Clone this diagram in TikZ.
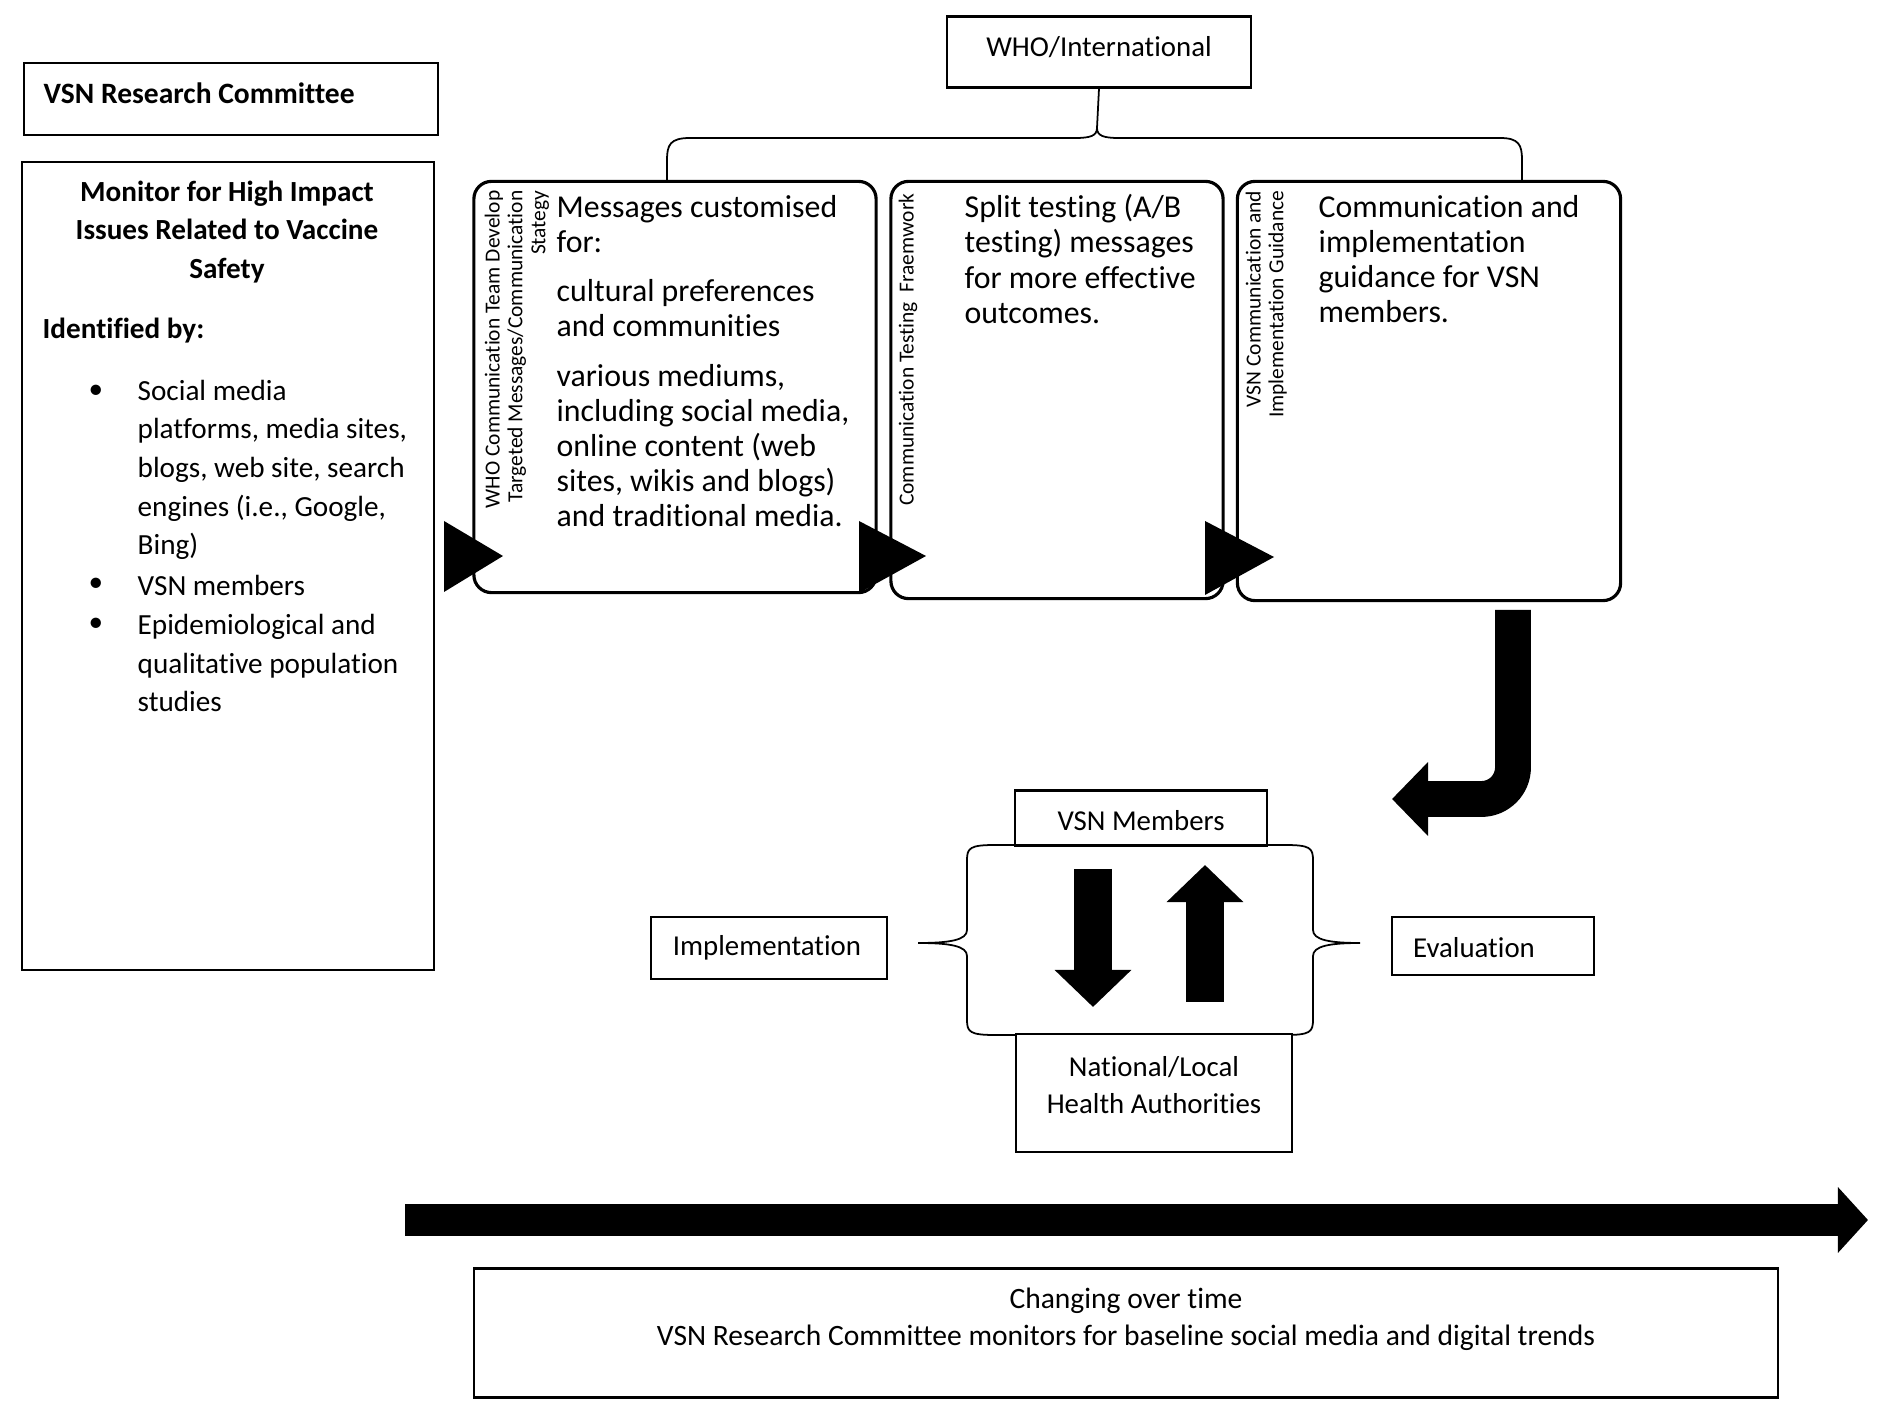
\documentclass[tikz,border=0pt]{standalone}
\usepackage{fontspec}
\setmainfont{Carlito}[Ligatures=NoCommon]
\usetikzlibrary{arrows.meta,positioning,calc}

\begin{document}
\begin{tikzpicture}[
  x=0.01cm,y=-0.01cm,
  plainbox/.style 2 args={draw,line width=0.6pt,minimum width=#1,minimum height=#2,
                          inner sep=0pt,fill=white},
  stagebox/.style 2 args={draw,line width=0.9pt,rounded corners=5pt,minimum width=#1,
                          minimum height=#2,inner sep=0pt},
  boxlabel/.style={font=\fontsize{8.2}{10.5}\selectfont,align=center,inner sep=0pt},
  stagetext/.style={font=\fontsize{9.05}{9.96}\selectfont,align=left,anchor=west,inner sep=0pt},
  sidelabel/.style={font=\fontsize{6.1}{6.5}\selectfont,align=right,rotate=90,
                    anchor=north east,inner sep=0pt},
  listtext/.style={font=\fontsize{8.3}{11}\selectfont,align=left,anchor=west,inner sep=0pt},
  flowtip/.style={fill=black},
  bigarrow/.style 2 args={line width=#1,-{Triangle[length=#2,width=2*#1]}},
]
\useasboundingbox[fill=white] (0,0) rectangle (1890,1413);

%% ── VSN Research Committee column ───────────────────────────────────────────
\node[plainbox={4.14cm}{0.72cm}] (rc) at (231,99) {};
\node[listtext,font=\fontsize{8.4}{11}\selectfont\bfseries] (rclabel) at (43,93) {VSN Research Committee};

\node[plainbox={4.12cm}{8.07cm}] (mon) at (228,566) {};
\node[boxlabel,font=\fontsize{8.3}{11}\selectfont\bfseries] (monhead) at (227,232)
  {Monitor for High Impact\\Issues Related to Vaccine\\Safety};
\node[listtext,font=\fontsize{8.3}{11}\selectfont\bfseries] (idby) at (42,331) {Identified by:};

\node[listtext] (item1) at (137,470)
  {Social media\\platforms, media sites,\\blogs, web site, search\\engines (i.e., Google,\\Bing)};
\node[listtext] (item2) at (137,585) {VSN members};
\node[listtext] (item3) at (137,663) {Epidemiological and\\qualitative population\\studies};
\foreach \yy in {392,585,625}
  \node[font=\fontsize{8.3}{11}\selectfont] at (96,\yy) {\textbullet};

%% ── WHO / International and its brace ───────────────────────────────────────
\node[plainbox={3.04cm}{0.71cm}] (who) at (1099,52) {};
\node[boxlabel] at (1099,47) {WHO/International};

\draw[line width=0.5pt] (who.south) -- (1097,128)
  .. controls (1097,136) and (1090,138) .. (1075,138) -- (690,138)
  .. controls (670,138) and (667,145) .. (667,160) -- (667,182);
\draw[line width=0.5pt] (1097,128)
  .. controls (1097,136) and (1104,138) .. (1119,138) -- (1500,138)
  .. controls (1519,138) and (1522,145) .. (1522,160) -- (1522,182);

%% ── Three stages ─────────────────────────────────────────────────────────────
\node[stagebox={4.02cm}{4.11cm}] (msg) at (675,387) {};
\node[sidelabel] (msgside) at (484,190)
  {WHO Communication Team Develop\\Targeted Messages/Communication\\Stategy};
\node[stagetext] (msgtext) at (556,361)
  {Messages customised\\for:\\[4.2pt]cultural preferences\\and communities\\[4.2pt]various mediums,\\including social media,\\online content (web\\sites, wikis and blogs)\\and traditional media.};

\node[stagebox={3.32cm}{4.17cm}] (split) at (1057,390) {};
\node[sidelabel] (splitside) at (898,193) {Communication Testing\ \ Fraemwork};
\node[stagetext] (splittext) at (964,259)
  {Split testing (A/B\\testing) messages\\for more effective\\outcomes.};

\node[stagebox={3.83cm}{4.19cm}] (guide) at (1429,391) {};
\node[sidelabel] (guideside) at (1245,190) {VSN Communication and\\Implementation Guidance};
\node[stagetext] (guidetext) at (1318,259)
  {Communication and\\implementation\\guidance for VSN\\members.};

%% triangles between the stages
\fill[flowtip] (444,521) -- (503,556) -- (444,592) -- cycle;
\fill[flowtip] (859,521) -- (926,556) -- (859,593) -- cycle;
\fill[flowtip] (1205,521) -- (1274,557) -- (1205,595) -- cycle;

%% ── Hook arrow down to the members ───────────────────────────────────────────
\coordinate (hookstart) at (1513,610);
\coordinate (hookend) at (1392,799);
\draw[bigarrow={10.2pt}{0.36cm},rounded corners=9pt]
  (hookstart) -- (1513,799) -- (hookend);

%% ── Members / authorities exchange ───────────────────────────────────────────
\draw[line width=0.5pt,fill=white] (995,845) -- (1285,845)
  .. controls (1310,845) and (1313,848) .. (1313,860) -- (1313,930)
  .. controls (1313,940) and (1330,943) .. (1360,943)
  .. controls (1330,943) and (1313,946) .. (1313,956) -- (1313,1020)
  .. controls (1313,1032) and (1310,1035) .. (1285,1035) -- (995,1035)
  .. controls (970,1035) and (967,1032) .. (967,1020) -- (967,956)
  .. controls (967,946) and (950,943) .. (918,943)
  .. controls (950,943) and (967,940) .. (967,930) -- (967,860)
  .. controls (967,848) and (970,845) .. (995,845) -- cycle;

\node[plainbox={2.51cm}{0.55cm}] (vsn) at (1141,818) {};
\node[boxlabel] at (1141,821) {VSN Members};
\node[plainbox={2.76cm}{1.18cm}] (nla) at (1154,1093) {};
\node[boxlabel] at (1154,1085) {National/Local\\Health Authorities};

\coordinate (downtop) at (1093,869);
\coordinate (downtip) at (1093,1007);
\coordinate (upfoot) at (1205,1002);
\coordinate (uptip) at (1205,865);
\draw[bigarrow={10.6pt}{0.37cm}] (downtop) -- (downtip);
\draw[bigarrow={10.6pt}{0.37cm}] (upfoot) -- (uptip);

\node[plainbox={2.36cm}{0.62cm}] (impl) at (769,948) {};
\node[boxlabel] at (767,948) {Implementation};
\node[plainbox={2.02cm}{0.58cm}] (eval) at (1493,946) {};
\node[boxlabel] at (1474,948) {Evaluation};

%% ── Time line ────────────────────────────────────────────────────────────────
\coordinate (timestart) at (405,1220);
\coordinate (timeend) at (1868,1220);
\draw[bigarrow={9.1pt}{0.30cm}] (timestart) -- (timeend);

\node[plainbox={13.04cm}{1.29cm}] (trend) at (1126,1333) {};
\node[boxlabel,font=\fontsize{8.4}{10.6}\selectfont] at (1126,1319)
  {Changing over time\\VSN Research Committee monitors for baseline social media and digital trends};

\end{tikzpicture}
\end{document}
